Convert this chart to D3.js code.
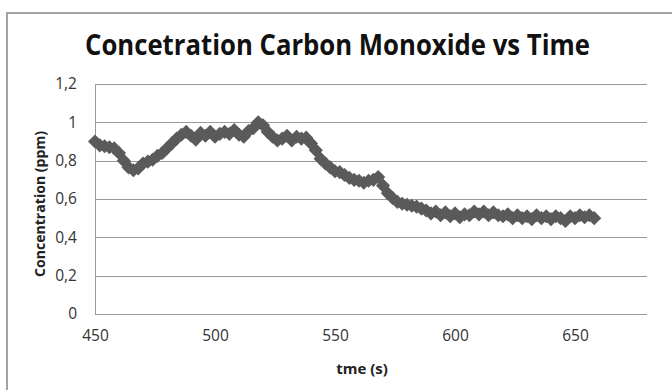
<!DOCTYPE html>
<html>
<head>
<meta charset="utf-8">
<script src="https://cdn.jsdelivr.net/npm/d3@7"></script>
<style>
  body { margin: 0; background: #fff; }
</style>
</head>
<body>
<div id="chart"></div>
<script>
// data (time in s, concentration in ppm)
const times = [
  450,452,454,456,458,460,462,464,466,468,470,472,474,476,478,480,482,484,486,488,
  490,492,494,496,498,500,502,504,506,508,510,512,514,516,518,520,522,524,526,528,
  530,532,534,536,538,540,542,544,546,548,550,552,554,556,558,560,562,564,566,568,
  570,572,574,576,578,580,582,584,586,588,590,592,594,596,598,600,602,604,606,608,
  610,612,614,616,618,620,622,624,626,628,630,632,634,636,638,640,642,644,646,648,
  650,652,654,656,658
];
const concentration = [
  0.90,0.88,0.875,0.87,0.865,0.84,0.80,0.765,0.75,0.76,0.785,0.795,0.805,0.825,0.84,0.865,0.89,0.915,0.935,0.95,
  0.93,0.91,0.945,0.93,0.95,0.925,0.94,0.95,0.94,0.96,0.935,0.925,0.955,0.97,1.0,0.985,0.95,0.925,0.905,0.915,
  0.93,0.905,0.925,0.915,0.92,0.89,0.855,0.81,0.785,0.765,0.745,0.74,0.725,0.71,0.70,0.695,0.685,0.695,0.70,0.715,
  0.67,0.63,0.605,0.585,0.575,0.57,0.565,0.56,0.55,0.54,0.525,0.535,0.515,0.53,0.51,0.525,0.505,0.52,0.515,0.535,
  0.52,0.535,0.515,0.53,0.515,0.51,0.52,0.5,0.515,0.5,0.51,0.495,0.515,0.5,0.51,0.495,0.51,0.5,0.485,0.51,
  0.5,0.515,0.505,0.515,0.5
];
const xTicks = [450, 500, 550, 600, 650];
const yTicks = [0, 0.2, 0.4, 0.6, 0.8, 1, 1.2];
const yTickLabels = ["0", "0,2", "0,4", "0,6", "0,8", "1", "1,2"];

const data = times.map((t, i) => ({time: t, value: concentration[i]}));

const width = 672, height = 390;
const plot = {left: 95, right: 647, top: 84, bottom: 314};

const svg = d3.select("#chart").append("svg")
    .attr("width", width)
    .attr("height", height)
    .style("font-family", "'Open Sans', sans-serif");

// outer chart frame (cropped on right and bottom)
svg.append("path")
  .attr("d", `M7,${height + 2} L7,13 L${width + 2},13`)
  .attr("fill", "none")
  .attr("stroke", "#a3a3a3")
  .attr("stroke-width", 2);

// title
svg.append("text")
  .attr("x", 85)
  .attr("y", 55)
  .attr("font-size", "29px")
  .attr("font-weight", "bold")
  .attr("fill", "#111")
  .attr("textLength", 505)
  .attr("lengthAdjust", "spacingAndGlyphs")
  .text("Concetration Carbon Monoxide vs Time");

const x = d3.scaleLinear()
    .domain([450, 680])
    .range([plot.left, plot.right]);

const y = d3.scaleLinear()
    .domain([0, 1.2])
    .range([plot.bottom, plot.top]);

// horizontal grid lines
const gray = "#9a9a9a";
svg.append("g")
  .selectAll("line")
  .data(yTicks)
  .join("line")
    .attr("stroke", gray)
    .attr("x1", plot.left)
    .attr("x2", plot.right)
    .attr("y1", d => Math.round(y(d)) + 0.5)
    .attr("y2", d => Math.round(y(d)) + 0.5);

// axes
const yAxis = d3.axisLeft(y)
    .tickValues(yTicks)
    .tickSize(0)
    .tickPadding(18)
    .tickFormat((d, i) => yTickLabels[i]);

const xAxis = d3.axisBottom(x)
    .tickValues(xTicks)
    .tickSize(0)
    .tickPadding(16)
    .tickFormat(d3.format("d"));

svg.append("g")
  .attr("transform", `translate(${plot.left}, 0)`)
  .call(yAxis)
  .call(g => g.select(".domain").attr("stroke", gray).attr("d", `M0.5,${plot.top}V${plot.bottom}`))
  .call(g => g.selectAll("text").attr("font-size", "15.5px").attr("fill", "#333").attr("font-family", "'Open Sans', sans-serif"));

svg.append("g")
  .attr("transform", `translate(0, ${plot.bottom})`)
  .call(xAxis)
  .call(g => g.select(".domain").remove())
  .call(g => g.selectAll("text").attr("font-size", "15.5px").attr("fill", "#333").attr("font-family", "'Open Sans', sans-serif"));

// axis titles
svg.append("text")
  .attr("x", 362)
  .attr("y", 374)
  .attr("text-anchor", "middle")
  .attr("font-size", "15px")
  .attr("font-weight", "bold")
  .attr("fill", "#222")
  .text("tme (s)");

svg.append("text")
  .attr("transform", `translate(45, ${(plot.top + plot.bottom) / 2 + 5}) rotate(-90)`)
  .attr("text-anchor", "middle")
  .attr("font-size", "13.5px")
  .attr("font-weight", "bold")
  .attr("fill", "#222")
  .attr("textLength", 146)
  .attr("lengthAdjust", "spacingAndGlyphs")
  .text("Concentration (ppm)");

// diamond markers
const diamond = d3.symbol().type(d3.symbolSquare).size(100);
svg.append("g")
  .selectAll("path")
  .data(data)
  .join("path")
    .attr("d", diamond)
    .attr("fill", "#5a5a5a")
    .attr("transform", d => `translate(${x(d.time)}, ${y(d.value)}) rotate(45)`);
</script>
</body>
</html>
